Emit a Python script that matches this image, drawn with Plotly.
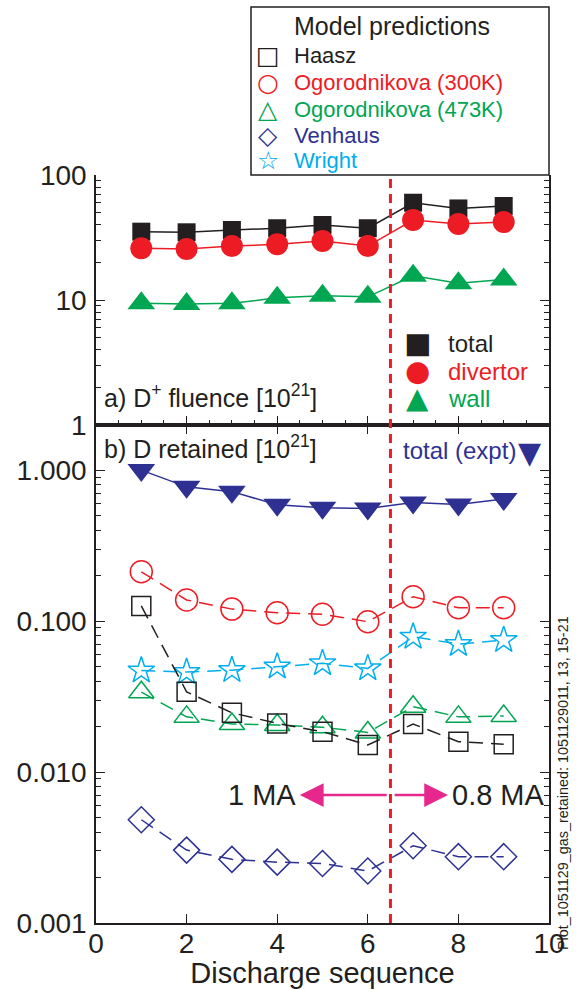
import math
import plotly.graph_objects as go

# Discharge index along the sequence
seq = [1, 2, 3, 4, 5, 6, 7, 8, 9]

# a) D+ fluence [1e21]
fluence_total = [35.2, 34.8, 36.3, 37.5, 39.8, 37.5, 60.0, 54.0, 56.5]
fluence_divertor = [25.9, 25.6, 27.0, 27.9, 29.6, 27.0, 43.6, 40.5, 42.0]
fluence_wall = [9.4, 9.3, 9.4, 10.4, 10.8, 10.6, 15.6, 13.6, 14.6]

# b) D retained [1e21]: measured total and model predictions
retained_expt = [1.0, 0.775, 0.72, 0.59, 0.563, 0.557, 0.61, 0.593, 0.643]
pred_haasz = [0.126, 0.034, 0.0247, 0.021, 0.0185, 0.0151, 0.0208, 0.0159, 0.0153]
pred_ogo300 = [0.212, 0.138, 0.120, 0.1135, 0.111, 0.099, 0.145, 0.1225, 0.1225]
pred_ogo473 = [0.0338, 0.0232, 0.0208, 0.0205, 0.0198, 0.0183, 0.0271, 0.0232, 0.0235]
pred_venhaus = [0.00483, 0.00304, 0.00264, 0.00253, 0.00248, 0.00221, 0.00325, 0.00275, 0.00275]
pred_wright = [0.047, 0.046, 0.0473, 0.0499, 0.0525, 0.0486, 0.0787, 0.0704, 0.0748]

# Plasma current change between discharges 6 and 7
current_switch = 6.5
current_labels = ["1 MA", "0.8 MA"]
current_label_level = 0.00704

BLACK = "#231F20"
RED = "#ED1C24"
GREEN = "#00A651"
NAVY = "#2E3192"
CYAN = "#00AEEF"
MAGENTA = "#E6288C"
FONT = "Liberation Sans, Arial, sans-serif"
GLYPH_FONT = "DejaVu Sans"

model_names = ["Haasz", "Ogorodnikova (300K)", "Ogorodnikova (473K)", "Venhaus", "Wright"]
model_colors = [BLACK, RED, GREEN, NAVY, CYAN]
model_glyphs = ["\u25A1", "\u25CB", "\u25B3", "\u25C7", "\u2606"]
fluence_names = ["total", "divertor", "wall"]
fluence_colors = [BLACK, RED, GREEN]
fluence_glyphs = ["\u25A0", "\u25CF", "\u25B2"]

fig = go.Figure()

# ---- panel a: fluence (filled markers, solid lines)
for vals, col, sym, size in [
    (fluence_total, BLACK, "square", 18),
    (fluence_divertor, RED, "circle", 22),
    (fluence_wall, GREEN, "triangle-up", 24),
]:
    fig.add_trace(go.Scatter(
        x=seq, y=vals, xaxis="x2", yaxis="y2", mode="lines+markers",
        line=dict(color=col, width=1.5),
        marker=dict(symbol=sym, size=size, color=col),
        showlegend=False, hoverinfo="skip"))

# ---- panel b: model predictions (open markers, dashed lines)
dash = "14px,8px"
for vals, col, sym, size in [
    (pred_ogo300, RED, "circle-open", 22),
    (pred_wright, CYAN, "star-open", 20),
    (pred_ogo473, GREEN, "triangle-up-open", 22),
    (pred_haasz, BLACK, "square-open", 19),
    (pred_venhaus, NAVY, "diamond-open", 20),
]:
    fig.add_trace(go.Scatter(
        x=seq, y=vals, xaxis="x", yaxis="y", mode="lines+markers",
        line=dict(color=col, width=1.5, dash=dash),
        marker=dict(symbol=sym, size=size, color=col, line=dict(color=col, width=1.5)),
        showlegend=False, hoverinfo="skip"))

# measured total retention
fig.add_trace(go.Scatter(
    x=seq, y=retained_expt, xaxis="x", yaxis="y", mode="lines+markers",
    line=dict(color=NAVY, width=1.5),
    marker=dict(symbol="triangle-down", size=24, color=NAVY),
    showlegend=False, hoverinfo="skip"))

split = 498 / 748

tick_font = dict(family=FONT, size=28, color=BLACK)
base = dict(
    showline=True, linecolor=BLACK, linewidth=1.5,
    ticks="inside", ticklen=9, tickwidth=1.3, tickcolor=BLACK,
    showgrid=False, zeroline=False, tickfont=tick_font,
)
y_minor = dict(dtick="D1", ticks="inside", ticklen=5, tickwidth=1.3,
               tickcolor=BLACK, showgrid=False)

fig.update_layout(
    template="none",
    width=576, height=989,
    margin=dict(l=96, r=27, t=175, b=66, autoexpand=False),
    paper_bgcolor="white", plot_bgcolor="white",
    font=dict(family=FONT, color=BLACK),
    showlegend=False,
    xaxis=dict(
        **base, mirror="ticks", range=[0, 10], dtick=2, tick0=0, anchor="y",
        ticklabelstandoff=-5,
        title=dict(text="Discharge sequence", font=dict(family=FONT, size=29, color=BLACK), standoff=0),
    ),
    xaxis2=dict(
        **base, mirror=False, range=[0, 10], dtick=2, tick0=0, anchor="y2",
        showticklabels=False,
        minor=dict(dtick=0.5, ticks="inside", ticklen=5, tickwidth=1.3,
                   tickcolor=BLACK, showgrid=False),
    ),
    yaxis=dict(
        **base, mirror="allticks", type="log", range=[-3, math.log10(1.99)], dtick=1,
        tickformat=".3f", domain=[0, split], anchor="x", ticklabelstandoff=2,
        minor=y_minor,
    ),
    yaxis2=dict(
        **base, mirror="allticks", type="log", range=[0, 2], dtick=1,
        domain=[split, 1], anchor="x2", ticklabelstandoff=2,
        minor=y_minor,
    ),
)

def px_x(p):
    return (p - 96) / 453

def px_y(p):
    return (923 - p) / 748

# ---- model legend (box above panel a)
fig.add_shape(type="rect", xref="paper", yref="paper",
              x0=px_x(251), x1=1, y0=1, y1=px_y(7),
              line=dict(color=BLACK, width=1.5), fillcolor="rgba(0,0,0,0)")
fig.add_annotation(xref="paper", yref="paper", x=px_x(292), y=px_y(26),
                   xanchor="left", yanchor="middle", showarrow=False,
                   text="Model predictions", font=dict(family=FONT, size=25, color=BLACK))
model_rows = [55, 82, 109, 135, 160]
for name, col, g, row in zip(model_names, model_colors, model_glyphs, model_rows):
    fig.add_annotation(xref="paper", yref="paper", x=px_x(268), y=px_y(row),
                       xanchor="center", yanchor="middle", showarrow=False,
                       text=g, font=dict(family=GLYPH_FONT, size=25, color=col))
    fig.add_annotation(xref="paper", yref="paper", x=px_x(292), y=px_y(row),
                       xanchor="left", yanchor="middle", showarrow=False,
                       text=name, font=dict(family=FONT, size=22, color=col))

# ---- fluence legend inside panel a
fluence_rows = [343, 371, 398]
for name, col, g, row in zip(fluence_names, fluence_colors, fluence_glyphs, fluence_rows):
    fig.add_annotation(xref="paper", yref="paper", x=px_x(417), y=px_y(row),
                       xanchor="center", yanchor="middle", showarrow=False,
                       text=g, font=dict(family=GLYPH_FONT, size=29, color=col))
    fig.add_annotation(xref="paper", yref="paper", x=px_x(446), y=px_y(row),
                       xanchor="left", yanchor="middle", showarrow=False,
                       text=name, font=dict(family=FONT, size=24, color=col))

# current switch marker across both panels
fig.add_shape(type="line", xref="x", yref="paper", x0=current_switch, x1=current_switch,
              y0=0, y1=1, line=dict(color=RED, width=3, dash="9px,6px"))

ann_font = dict(family=FONT, color=BLACK)
fig.add_annotation(xref="paper", yref="paper", x=px_x(102), y=px_y(396),
                   xanchor="left", yanchor="middle", showarrow=False,
                   text="a) D<sup>+</sup> fluence [10<sup>21</sup>]", font=dict(**ann_font, size=25))
fig.add_annotation(xref="paper", yref="paper", x=px_x(102), y=px_y(447),
                   xanchor="left", yanchor="middle", showarrow=False,
                   text="b) D retained [10<sup>21</sup>]", font=dict(**ann_font, size=25))
fig.add_annotation(xref="paper", yref="paper", x=px_x(401), y=px_y(450),
                   xanchor="left", yanchor="middle", showarrow=False,
                   text="total (expt)", font=dict(family=FONT, size=24, color=NAVY))
fig.add_annotation(xref="paper", yref="paper", x=px_x(529), y=px_y(452),
                   xanchor="center", yanchor="middle", showarrow=False,
                   text="\u25BC", font=dict(family=GLYPH_FONT, size=30, color=NAVY))

ylab = math.log10(current_label_level)
fig.add_annotation(xref="x", yref="y", x=4.46, y=ylab, xanchor="right", yanchor="middle",
                   showarrow=False, text=current_labels[0], font=dict(**ann_font, size=29))
fig.add_annotation(xref="x", yref="y", x=7.81, y=ylab, xanchor="left", yanchor="middle",
                   showarrow=False, text=current_labels[1], font=dict(**ann_font, size=29))
for tip, tail in [(4.50, current_switch - 0.05), (7.77, current_switch + 0.06)]:
    fig.add_annotation(xref="x", yref="y", x=tip, y=ylab, axref="x", ayref="y",
                       ax=tail, ay=ylab, text="", showarrow=True, arrowhead=2,
                       arrowsize=1.9, arrowwidth=2.5, arrowcolor=MAGENTA)

fig.add_annotation(xref="paper", yref="paper", x=px_x(563), y=px_y(783),
                   xanchor="center", yanchor="middle", showarrow=False, textangle=-90,
                   text="Plot_1051129_gas_retained: 1051129011, 13, 15-21",
                   font=dict(**ann_font, size=14.4))

fig.write_html("out.html")
